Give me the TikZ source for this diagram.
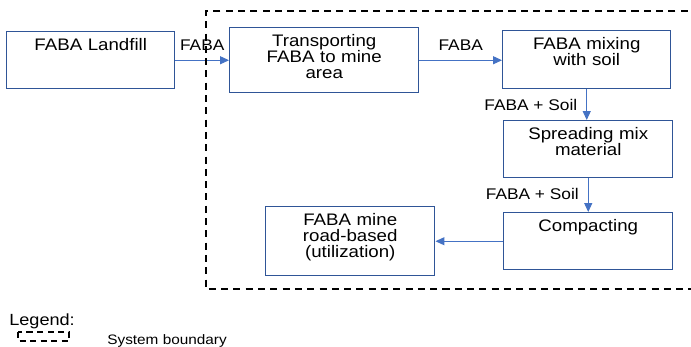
\documentclass[tikz,border=0pt]{standalone}
\usepackage{fontspec}
\setmainfont[FakeStretch=1.12]{Liberation Sans}
\usetikzlibrary{arrows.meta}
\definecolor{boxblue}{HTML}{2F5597}
\definecolor{flowblue}{HTML}{4472C4}

\begin{document}
\begin{tikzpicture}[x=0.02cm, y=-0.02cm,
		stage/.style 2 args={draw=boxblue, line width=0.85pt, anchor=north west, inner sep=0pt,
			align=center, text width=#1*0.02cm, text height=0.38cm, text depth=#2*0.02cm-0.38cm,
			font=\fontsize{9.5}{9.1}\selectfont},
		flow/.style={draw=flowblue, line width=0.55pt, -{Triangle[length=5pt,width=4.5pt]}},
		tag/.style={inner sep=0pt, font=\fontsize{8.8}{9}\selectfont},
		boundary/.style={line width=0.85pt, dash pattern=on 4pt off 3pt}]
	\useasboundingbox (0,0) rectangle (691,347);

	% process stages
	\node[stage={168}{57}] (landfill) at (6,31) {FABA Landfill};
	\node[stage={189}{65}] (transport) at (229,27) {Transporting\\FABA to mine\\area};
	\node[stage={168}{58}] (mixing) at (502,30) {FABA mixing\\with soil};
	\node[stage={169}{57}] (spreading) at (503,120) {Spreading mix\\material};
	\node[stage={169}{57}] (compacting) at (503,212) {Compacting};
	\node[stage={169}{69}] (road) at (265,206) {FABA mine\\road-based\\(utilization)};

	% material flows
	\draw[flow] (landfill.east) -- node[tag, above=0.19cm] (faba1) {FABA} (transport.west);
	\draw[flow] (transport.east) -- node[tag, above=0.19cm] (faba2) {FABA} (transport.east -| mixing.west);
	\draw[flow] (mixing.south) -- node[tag, left=0.18cm] (mix1) {FABA + Soil} (mixing.south |- spreading.north);
	\draw[flow] (spreading.south) -- node[tag, left=0.18cm, pos=0.45] (mix2) {FABA + Soil} (compacting.north);
	\draw[flow] (compacting.west) -- (road.east);

	% system boundary, open to the right
	\draw[boundary] (700,11) -| (206,289) -- (700,289);

	% legend
	\node[tag, anchor=west, font=\fontsize{9.2}{9}\selectfont] (legend) at (9,321) {Legend:};
	\draw[line width=0.75pt, dash pattern=on 3.5pt off 2.5pt] (18,332) rectangle (69,341);
	\node[tag, anchor=west, font=\fontsize{7.8}{9}\selectfont] (key) at (107,341) {System boundary};
\end{tikzpicture}
\end{document}
